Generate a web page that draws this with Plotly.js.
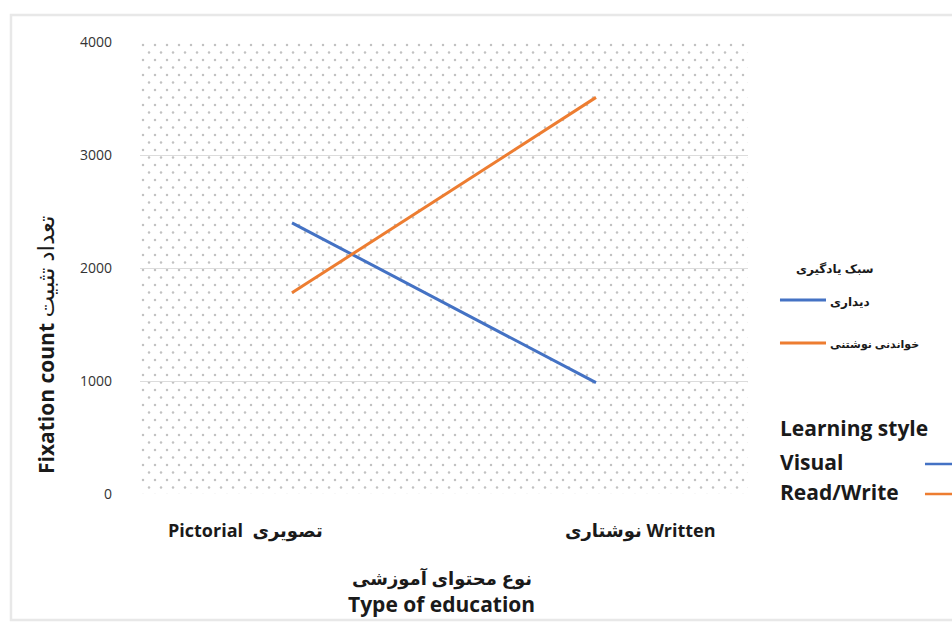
<!DOCTYPE html>
<html>
<head>
<meta charset="utf-8">
<script src="https://cdn.plot.ly/plotly-3.0.1.min.js"></script>
<style>
  html, body { margin: 0; padding: 0; background: #fff; }
  #chart { width: 952px; height: 624px; }
</style>
</head>
<body>
<div id="chart"></div>
<script>
// Fixation count by type of education, per learning style
const categories = ['Pictorial', 'Written'];
const categoryLabels = ['<b>Pictorial  تصویری</b>', '<b>نوشتاری Written</b>'];
const visualCounts = [2400, 985];
const readWriteCounts = [1780, 3510];
const seriesNamesFa = ['دیداری', 'خواندنی نوشتنی'];
const seriesNamesEn = ['Visual', 'Read/Write'];
const yTicks = [0, 1000, 2000, 3000, 4000];

const BLUE = '#4472C4';
const ORANGE = '#ED7D31';
const FONT = '"Open Sans", "DejaVu Sans", sans-serif';

// dotted plot-area fill as an inline SVG tile
const W = 608, H = 452;
const dotSvg =
  '<svg xmlns="http://www.w3.org/2000/svg" width="' + W + '" height="' + H + '">' +
  '<defs><pattern id="d" width="12" height="15" patternUnits="userSpaceOnUse">' +
  '<circle cx="3" cy="3" r="1.25" fill="#c2c2c2"/>' +
  '<circle cx="9" cy="10.5" r="1.25" fill="#c2c2c2"/>' +
  '</pattern></defs>' +
  '<rect width="' + W + '" height="' + H + '" fill="url(#d)"/></svg>';
const dotSrc = 'data:image/svg+xml;charset=utf-8,' + encodeURIComponent(dotSvg);

const traces = [
  {
    x: categories, y: visualCounts, type: 'scatter', mode: 'lines',
    name: seriesNamesEn[0], line: { color: BLUE, width: 3 }, showlegend: false,
    hoverinfo: 'y'
  },
  {
    x: categories, y: readWriteCounts, type: 'scatter', mode: 'lines',
    name: seriesNamesEn[1], line: { color: ORANGE, width: 3 }, showlegend: false,
    hoverinfo: 'y'
  }
];

function txt(text, x, y, size, opts) {
  return Object.assign({
    text: text, x: x, y: y, xref: 'paper', yref: 'paper',
    showarrow: false, xanchor: 'center', yanchor: 'middle',
    font: { family: FONT, size: size, color: '#1a1a1a' }
  }, opts || {});
}

function legendLine(x0, x1, y, color, width) {
  return {
    type: 'line', xref: 'paper', yref: 'paper',
    x0: x0, x1: x1, y0: y, y1: y,
    line: { color: color, width: width }
  };
}

const annotations = [
  // category labels under the axis
  txt(categoryLabels[0], 0.1727, -0.0796, 18),
  txt(categoryLabels[1], 0.8224, -0.0796, 18),
  // axis titles
  txt('<b>نوع محتوای آموزشی</b>', 0.496, -0.1865, 18),
  txt('<b>Type of education</b>', 0.496, -0.2443, 21),
  txt('<b>Fixation count</b> <span style="font-size:23px">تعداد تثبیت</span>',
      -0.1562, 0.3296, 21, { textangle: -90 }),
  // Persian legend
  txt('<b>سبک یادگیری</b>', 1.1431, 0.5, 12),
  txt('<b>' + seriesNamesFa[0] + '</b>', 1.1316, 0.4248, 12, { xanchor: 'left' }),
  txt('<b>' + seriesNamesFa[1] + '</b>', 1.1316, 0.3319, 11, { xanchor: 'left' }),
  // English legend
  txt('<b>Learning style</b>', 1.0493, 0.146, 21, { xanchor: 'left' }),
  txt('<b>' + seriesNamesEn[0] + '</b>', 1.0493, 0.0708, 21, { xanchor: 'left' }),
  txt('<b>' + seriesNamesEn[1] + '</b>', 1.0493, 0.0044, 21, { xanchor: 'left' })
];

const shapes = [
  // outer frame
  {
    type: 'rect', xref: 'paper', yref: 'paper',
    x0: -0.2122, x1: 1.36, y0: -0.2788, y1: 1.0597,
    line: { color: '#e8e8e8', width: 2.5 }, fillcolor: 'rgba(0,0,0,0)', layer: 'below'
  },
  legendLine(1.0526, 1.1283, 0.4292, BLUE, 3),
  legendLine(1.0526, 1.1283, 0.3341, ORANGE, 3),
  legendLine(1.2911, 1.36, 0.0664, BLUE, 2.5),
  legendLine(1.2911, 1.36, 0.0, ORANGE, 2.5)
];

const layout = {
  width: 952, height: 624,
  margin: { l: 140, r: 204, t: 42, b: 130 },
  paper_bgcolor: '#ffffff',
  plot_bgcolor: 'rgba(0,0,0,0)',
  font: { family: FONT, color: '#1a1a1a' },
  showlegend: false,
  xaxis: {
    type: 'category', range: [-0.5, 1.5],
    showticklabels: false, showgrid: false, zeroline: false, showline: false, ticks: ''
  },
  yaxis: {
    range: [0, 4000], tickvals: yTicks, ticktext: yTicks.map(String),
    showgrid: true, gridcolor: '#dcdcdc', gridwidth: 1,
    zeroline: false, showline: false, ticks: '',
    ticklabelstandoff: 27,
    tickfont: { family: FONT, size: 14, color: '#333333' }
  },
  images: [{
    source: dotSrc, xref: 'paper', yref: 'paper',
    x: 0, y: 1, sizex: 1, sizey: 1, sizing: 'stretch',
    xanchor: 'left', yanchor: 'top', layer: 'below'
  }],
  annotations: annotations,
  shapes: shapes
};

Plotly.newPlot('chart', traces, layout, { displayModeBar: false, staticPlot: true });
</script>
</body>
</html>
